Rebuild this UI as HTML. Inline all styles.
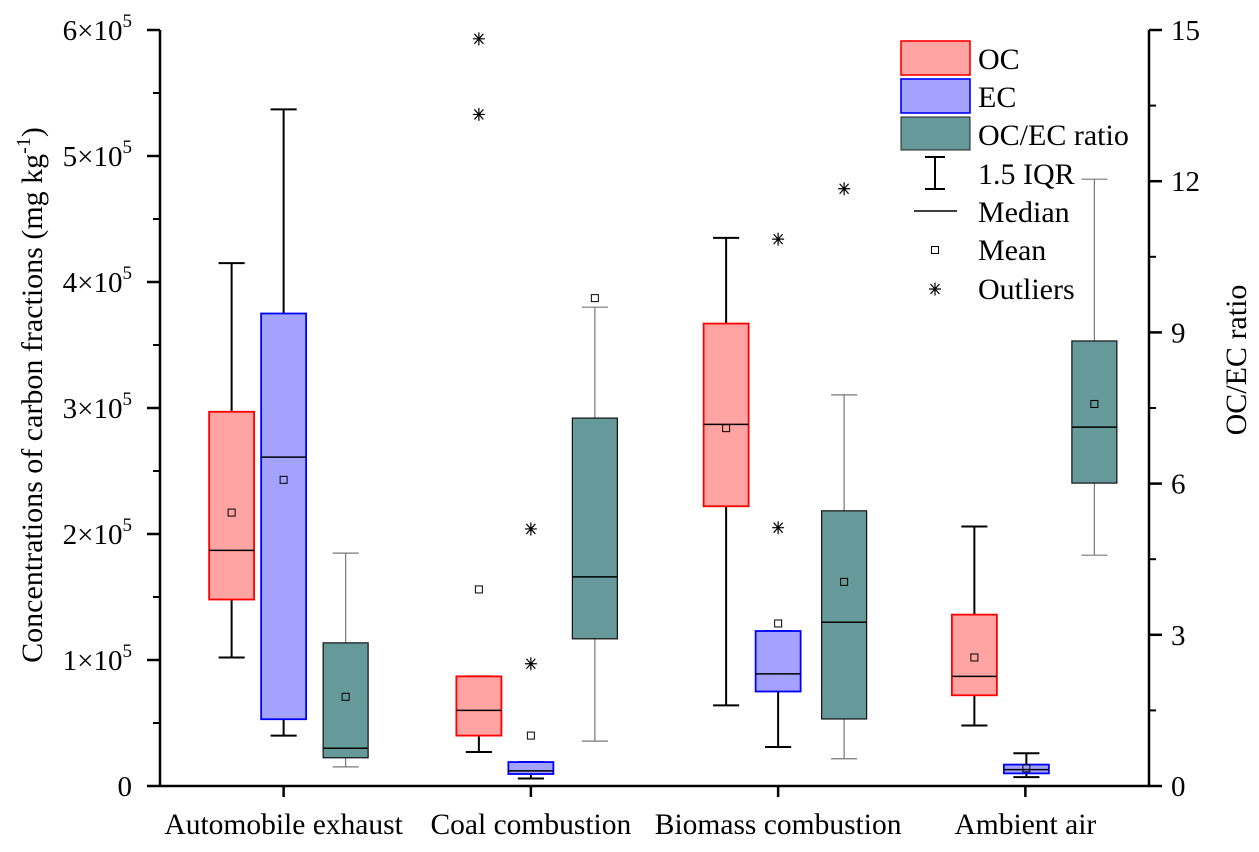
<!DOCTYPE html>
<html><head><meta charset="utf-8"><style>
body{margin:0;background:#fff}
svg text{font-family:"Liberation Serif","Times New Roman",serif;fill:#000}
</style></head><body>
<svg id="chart" width="1259" height="847" xmlns="http://www.w3.org/2000/svg"></svg>
<script>
const categories=["Automobile exhaust","Coal combustion","Biomass combustion","Ambient air"];
// values: [lo whisker, Q1, median, Q3, hi whisker, mean]; OC/EC in units of 1e5 mg/kg, ratio unitless
const ocStats=[[1.02,1.48,1.87,2.97,4.15,2.17],[0.27,0.40,0.60,0.87,0.87,1.56],[0.64,2.22,2.87,3.67,4.35,2.84],[0.48,0.72,0.87,1.36,2.06,1.02]];
const ecStats=[[0.40,0.53,2.61,3.75,5.37,2.43],[0.06,0.095,0.12,0.19,0.19,0.40],[0.31,0.75,0.89,1.23,1.23,1.29],[0.07,0.10,0.13,0.17,0.26,0.14]];
const ratioStats=[[0.38,0.56,0.75,2.84,4.62,1.77],[0.89,2.92,4.15,7.30,9.50,9.68],[0.54,1.33,3.25,5.46,7.76,4.05],[4.58,6.01,7.12,8.83,12.04,7.58]];
const ocOutliers=[[],[5.93,5.33],[],[]];
const ecOutliers=[[],[2.04,0.97],[4.34,2.05],[]];
const ratioOutliers=[[],[],[11.85],[]];
const leftTicks=[0,1,2,3,4,5,6];
const rightTicks=[0,3,6,9,12,15];
// layout (box center offsets relative to category center, px)
const layout={oc:[-52,-52,-52,-51],ec:[0,0,0,1],ra:[62,64,66,69],w:45};
const L=160,R=1149,T=30,B=786;
const yL=v=>B-v*(B-T)/6, yR=v=>B-v*(B-T)/15, xC=i=>L+(i+0.5)*(R-L)/4;
const svg=document.getElementById('chart');const NS='http://www.w3.org/2000/svg';
function el(t,a,p){const e=document.createElementNS(NS,t);for(const k in a)e.setAttribute(k,a[k]);(p||svg).appendChild(e);return e;}
function star(x,y,g){el('path',{d:`M${x-6} ${y}H${x+6}M${x-4.5} ${y-5}L${x+4.5} ${y+5}M${x-4.5} ${y+5}L${x+4.5} ${y-5}M${x} ${y-6.5}V${y+6.5}`,stroke:'#000','stroke-width':1.2},g);}
function box(s,cx,w,ys,fill,stroke,sw,wc,ww,name,outs){
  const g=el('g',{});
  
  
  const x0=cx-w/2,cap=w*0.58;
  el('line',{x1:cx,x2:cx,y1:ys(s[3]),y2:ys(s[4]),stroke:wc,'stroke-width':ww},g);
  el('line',{x1:cx,x2:cx,y1:ys(s[1]),y2:ys(s[0]),stroke:wc,'stroke-width':ww},g);
  el('line',{x1:cx-cap/2,x2:cx+cap/2,y1:ys(s[4]),y2:ys(s[4]),stroke:wc,'stroke-width':ww},g);
  el('line',{x1:cx-cap/2,x2:cx+cap/2,y1:ys(s[0]),y2:ys(s[0]),stroke:wc,'stroke-width':ww},g);
  el('rect',{x:x0,y:ys(s[3]),width:w,height:ys(s[1])-ys(s[3]),fill:fill,stroke:stroke,'stroke-width':sw},g);
  el('line',{x1:x0,x2:x0+w,y1:ys(s[2]),y2:ys(s[2]),stroke:sw>1?'#000':'#333','stroke-width':sw>1?1.5:1},g);
  el('rect',{x:cx-3.5,y:ys(s[5])-3.5,width:7,height:7,fill:'none',stroke:'#000','stroke-width':1},g);
  outs.forEach(o=>star(cx,ys(o),g));
}
categories.forEach((c,i)=>{
  const x=xC(i);
  box(ocStats[i],x+layout.oc[i],layout.w,yL,'#ffa3a3','#f00',1.8,'#000',2,'oc-box-'+i,ocOutliers[i]);
  box(ecStats[i],x+layout.ec[i],layout.w,yL,'#a3a3ff','#00f',1.8,'#000',2,'ec-box-'+i,ecOutliers[i]);
  box(ratioStats[i],x+layout.ra[i],layout.w,yR,'#669999','#111',1.2,'#777',1.2,'ratio-box-'+i,ratioOutliers[i]);
  const t=el('text',{x:x,y:834,'font-size':29.5,'text-anchor':'middle'});t.textContent=c;
  
  
  el('line',{x1:x,x2:x,y1:B,y2:B+11,stroke:'#000','stroke-width':2.5});
});
// axes
el('line',{x1:L,x2:R,y1:B,y2:B,stroke:'#000','stroke-width':2.5});
el('line',{x1:L,x2:L,y1:T,y2:B,stroke:'#000','stroke-width':2.5});
el('line',{x1:R,x2:R,y1:T,y2:B,stroke:'#000','stroke-width':2.5});
leftTicks.forEach(v=>{
  const y=yL(v);
  el('line',{x1:L-13,x2:L,y1:y,y2:y,stroke:'#000','stroke-width':2.5});
  if(v<6)el('line',{x1:L-7,x2:L,y1:yL(v+0.5),y2:yL(v+0.5),stroke:'#000','stroke-width':2});
  const t=el('text',{x:L-28,y:y+10,'font-size':29,'text-anchor':'end'});
  
  
  if(v===0)t.textContent='0';else t.innerHTML=v+'×10<tspan dy="-13" font-size="19">5</tspan>';
});
rightTicks.forEach(v=>{
  const y=yR(v);
  el('line',{x1:R,x2:R+13,y1:y,y2:y,stroke:'#000','stroke-width':2.5});
  if(v<15)el('line',{x1:R,x2:R+7,y1:yR(v+1.5),y2:yR(v+1.5),stroke:'#000','stroke-width':2});
  const t=el('text',{x:R+22,y:y+10,'font-size':29});t.textContent=v;
  
  
});
const yt=el('text',{x:0,y:0,'font-size':30,'text-anchor':'middle',transform:'translate(42 395) rotate(-90)'});
yt.innerHTML='Concentrations of carbon fractions (mg kg<tspan dy="-12" font-size="20">-1</tspan><tspan dy="12">)</tspan>';

const yt2=el('text',{x:0,y:0,'font-size':30,'text-anchor':'middle',transform:'translate(1246 360) rotate(-90)'});
yt2.textContent='OC/EC ratio';

// legend
const lg=el('g',{});

el('rect',{x:901,y:41,width:69,height:34,fill:'#ffa3a3',stroke:'#f00','stroke-width':1.6},lg);
el('rect',{x:901,y:79,width:69,height:34,fill:'#a3a3ff',stroke:'#00f','stroke-width':1.6},lg);
el('rect',{x:901,y:117,width:69,height:33,fill:'#669999',stroke:'#222','stroke-width':1},lg);
el('path',{d:'M935 157V189M925 157H945M925 189H945',stroke:'#000','stroke-width':2,fill:'none'},lg);
el('line',{x1:914,x2:957,y1:211,y2:211,stroke:'#000','stroke-width':1.5},lg);
el('rect',{x:931.5,y:246.5,width:7,height:7,fill:'#fff',stroke:'#000'},lg);
star(935,289,lg);
['OC','EC','OC/EC ratio','1.5 IQR','Median','Mean','Outliers'].forEach((s,i)=>{
  const t=el('text',{x:978,y:[69,107,145,184,222,260,299][i],'font-size':30},lg);t.textContent=s;
});
</script>
</body></html>
